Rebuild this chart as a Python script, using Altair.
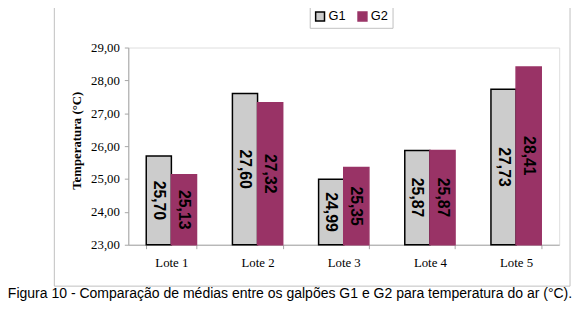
import altair as alt
import pandas as pd

lotes = ["Lote 1", "Lote 2", "Lote 3", "Lote 4", "Lote 5"]
series = ["G1", "G2"]
g1 = [25.70, 27.60, 24.99, 25.87, 27.73]
g2 = [25.13, 27.32, 25.35, 25.87, 28.41]
y_ticks = [23, 24, 25, 26, 27, 28, 29]
y_title = "Temperatura (°C)"
caption = "Figura 10 - Comparação de médias entre os galpões G1 e G2 para temperatura do ar (°C)."
base_value = 23

rows = []
for i, lote in enumerate(lotes):
    rows.append({"lote": lote, "serie": "G1", "valor": g1[i], "base": base_value})
    rows.append({"lote": lote, "serie": "G2", "valor": g2[i], "base": base_value})
df = pd.DataFrame(rows)

SERIF = "Liberation Serif"
SANS = "Liberation Sans"
AXIS_GRAY = "#A6A6A6"

color_scale = alt.Scale(domain=series, range=["#CCCCCC", "#993366"])
stroke_scale = alt.Scale(domain=series, range=["#000000", "#993366"])
x_scale = alt.Scale(paddingInner=0.4165, paddingOuter=0.20825)
off_scale = alt.Scale(paddingInner=0, paddingOuter=0)
y_scale = alt.Scale(domain=[23, 29], zero=False, nice=False)

x_axis = alt.Axis(
    labelAngle=0,
    labelFont=SERIF,
    labelFontSize=13,
    labelColor="#000000",
    labelPadding=8,
    tickBand="extent",
    tickSize=4,
    tickColor=AXIS_GRAY,
    domainColor=AXIS_GRAY,
)
y_axis = alt.Axis(
    values=y_ticks,
    grid=False,
    labelOverlap=False,
    labelFlush=False,
    labelExpr="replace(format(datum.value, '.2f'), '.', ',')",
    labelFont=SERIF,
    labelFontSize=13,
    labelColor="#000000",
    labelPadding=5,
    tickSize=4,
    tickColor=AXIS_GRAY,
    domainColor=AXIS_GRAY,
    titleFont=SERIF,
    titleFontSize=13,
    titleFontWeight="bold",
    titleColor="#000000",
    titleAngle=-90,
    titleAlign="center",
    titleBaseline="middle",
    titleX=-52,
    titleY=94,
)

bars = alt.Chart(df).mark_bar(strokeWidth=1.5).encode(
    x=alt.X("lote:N", sort=lotes, title=None, scale=x_scale, axis=x_axis),
    xOffset=alt.XOffset("serie:N", sort=series, scale=off_scale),
    y=alt.Y("valor:Q", scale=y_scale, title=y_title, axis=y_axis),
    y2="base:Q",
    fill=alt.Fill("serie:N", scale=color_scale, sort=series,
                  legend=alt.Legend(
                      title=None,
                      orient="none",
                      legendX=184,
                      legendY=-42,
                      direction="horizontal",
                      symbolType="square",
                      symbolSize=81,
                      symbolStrokeWidth=1.5,
                      labelFont=SANS,
                      labelFontSize=13,
                      labelColor="#000000",
                      labelOffset=2,
                      columnPadding=9,
                      padding=4,
                      strokeColor="#BFBFBF",
                  )),
    stroke=alt.Stroke("serie:N", scale=stroke_scale, sort=series, legend=None),
)

labels = alt.Chart(df).transform_calculate(
    mid="(datum.valor + datum.base) / 2",
    rotulo="replace(format(datum.valor, '.2f'), '.', ',')",
).mark_text(
    angle=90, font=SANS, fontSize=16, fontWeight="bold", color="#000000",
    align="center", baseline="middle",
).encode(
    x=alt.X("lote:N", sort=lotes, title=None, scale=x_scale, axis=x_axis),
    xOffset=alt.XOffset("serie:N", sort=series, scale=off_scale),
    y=alt.Y("mid:Q", scale=y_scale, title=y_title, axis=y_axis),
    text="rotulo:N",
)

one = alt.Data(values=[{"k": 1}])
border = alt.Chart(one).mark_rect(fill=None, stroke="#BFBFBF", strokeWidth=1, clip=False).encode(
    x=alt.value(-75), x2=alt.value(448), y=alt.value(-46), y2=alt.value(242)
)
cap = alt.Chart(one).mark_text(
    font=SANS, fontSize=14.2, color="#000000", align="center", baseline="alphabetic", clip=False
).encode(x=alt.value(164), y=alt.value(254), text=alt.value(caption))

chart = alt.layer(border, bars, labels, cap).properties(
    width=437,
    height=200,
    padding={"left": 122, "top": 38, "right": 13, "bottom": 57},
    autosize=alt.AutoSizeParams(type="none"),
).configure_view(stroke="#BFBFBF", strokeWidth=1).configure(background="#FFFFFF")

chart.save("out.html", embed_options={"renderer": "svg", "actions": False})
